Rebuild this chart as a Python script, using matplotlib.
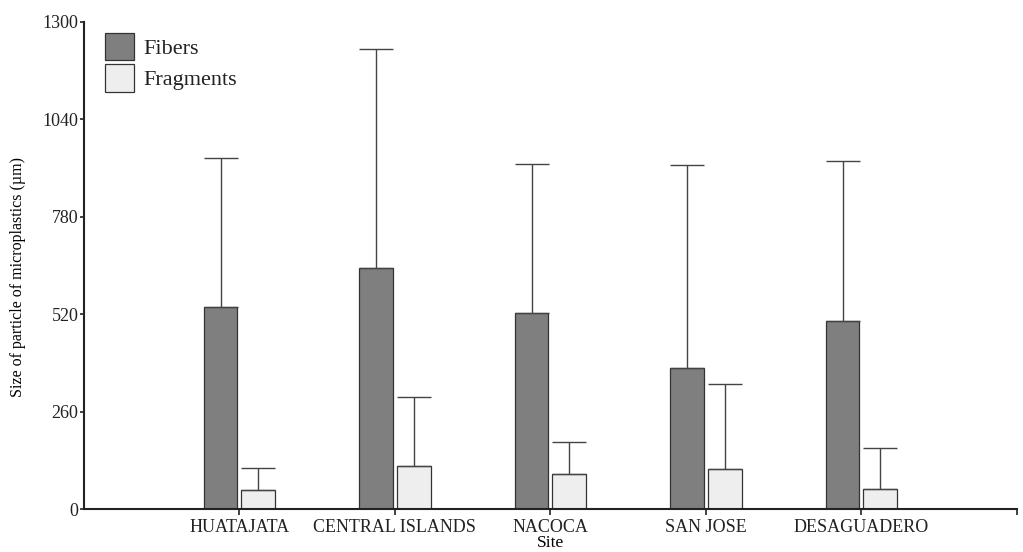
import numpy as np
import matplotlib
matplotlib.use("Agg")
import matplotlib.pyplot as plt

plt.rcParams["font.family"] = ["Liberation Serif", "DejaVu Serif"]
plt.rcParams["text.color"] = "#222222"

# values
sites = ["HUATAJATA", "CENTRAL ISLANDS", "NACOCA", "SAN JOSE", "DESAGUADERO"]
fibers_mean = [540, 644, 524, 376, 502]
fibers_sd = [398, 583, 398, 543, 428]
fragments_mean = [51, 116, 95, 107, 54]
fragments_sd = [58, 184, 84, 228, 109]
y_ticks = [0, 260, 520, 780, 1040, 1300]


def main():
    fig = plt.figure(figsize=(10.23, 5.52), dpi=100)
    ax = fig.add_axes([0.082, 0.0774, 0.912, 0.883])

    x = np.arange(len(sites))
    width = 0.217
    offset = 0.121

    err_kw = dict(ecolor="#444444", elinewidth=1.0, capsize=12, capthick=1.0)

    ax.bar(
        x - offset, fibers_mean, width,
        yerr=[np.zeros(len(sites)), fibers_sd],
        color="#7f7f7f", edgecolor="#333333", linewidth=0.9,
        error_kw=err_kw, label="Fibers",
    )
    ax.bar(
        x + offset, fragments_mean, width,
        yerr=[np.zeros(len(sites)), fragments_sd],
        color="#eeeeee", edgecolor="#333333", linewidth=0.9,
        error_kw=err_kw, label="Fragments",
    )

    ax.set_xlim(-1, 5)
    ax.set_ylim(0, 1300)
    ax.set_yticks(y_ticks)
    ax.set_yticklabels([str(v) for v in y_ticks], fontsize=13)

    ax.set_xticks(list(x) + [5])
    ax.set_xticklabels(sites + [""], fontsize=13)

    ax.tick_params(axis="y", direction="out", length=3, width=1.2, pad=1, colors="#222222")
    ax.tick_params(axis="x", direction="out", length=4, width=1.2, pad=3, colors="#222222")

    ax.spines["top"].set_visible(False)
    ax.spines["right"].set_visible(False)
    ax.spines["left"].set_linewidth(1.5)
    ax.spines["bottom"].set_linewidth(1.5)
    ax.spines["left"].set_color("#222222")
    ax.spines["bottom"].set_color("#222222")

    ax.set_ylabel("Size of particle of microplastics (\u00b5m)", fontsize=11.5)
    ax.yaxis.set_label_coords(-0.062, 0.476)
    ax.set_xlabel("Site", fontsize=12.5, labelpad=-1)

    ax.legend(
        loc="upper left",
        bbox_to_anchor=(0.1026, 0.941),
        bbox_transform=fig.transFigure,
        frameon=False,
        fontsize=16,
        handlelength=1.3,
        handleheight=1.55,
        labelspacing=0.15,
        handletextpad=0.45,
        borderpad=0,
        borderaxespad=0,
    )

    fig.savefig("out.png", dpi=100)
    plt.close(fig)


if __name__ == "__main__":
    main()
